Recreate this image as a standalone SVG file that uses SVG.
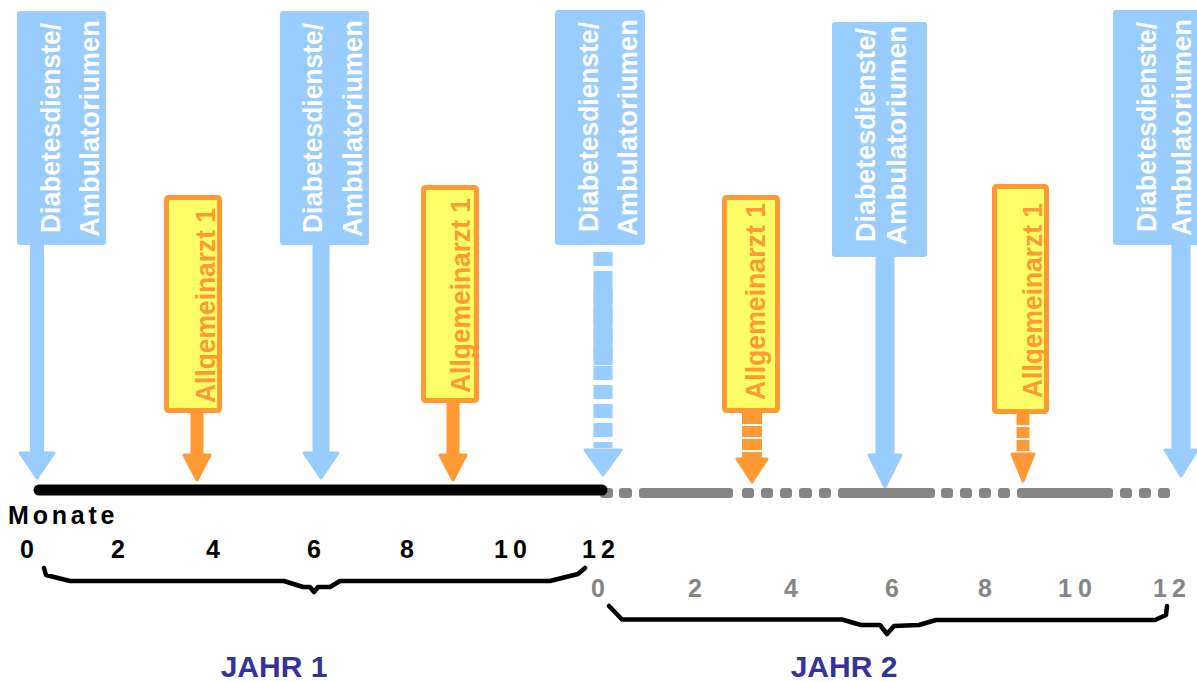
<svg xmlns="http://www.w3.org/2000/svg" width="1197" height="682" viewBox="0 0 1197 682">
<style>
.bx{fill:#99CCFF}
.bt{font-family:"Liberation Sans",Arial,sans-serif;font-weight:bold;font-size:28px;fill:#FFFFFF}
.ob{fill:#FFFF66;stroke:#FF9933;stroke-width:5}
.ot{font-family:"Liberation Sans",Arial,sans-serif;font-weight:bold;font-size:27px;fill:#FF9933}
.bs{stroke:#99CCFF;fill:none}
.os{stroke:#FF9933;fill:none}
.bh{fill:#99CCFF;stroke:#99CCFF;stroke-width:3;stroke-linejoin:round}
.oh{fill:#FF9933;stroke:#FF9933;stroke-width:3;stroke-linejoin:round}
.num{font-family:"Liberation Sans",Arial,sans-serif;font-weight:bold;font-size:25px}
.n1{fill:#000000}
.n2{fill:#858585}
.gd{fill:#858585}
.brace{fill:none;stroke:#000000;stroke-width:4.5;stroke-linejoin:round;stroke-linecap:round}
.yr{font-family:"Liberation Sans",Arial,sans-serif;font-weight:bold;font-size:30px;fill:#333399;text-anchor:middle}
</style>

<g id="connectors">
  <line class="bs" x1="37" y1="244" x2="37" y2="456" stroke-width="14"/>
  <polygon class="bh" points="20,453 54,453 37,478"/>
  <line class="bs" x1="321" y1="244" x2="321" y2="456" stroke-width="17"/>
  <polygon class="bh" points="304,453 338,453 321,478"/>
  <line class="bs" x1="603" y1="252" x2="603" y2="448" stroke-width="19" stroke-dasharray="14 5"/>
  <line class="bs" x1="603" y1="285" x2="603" y2="365" stroke-width="19"/>
  <polygon class="bh" points="585,450 621,450 603,475"/>
  <line class="bs" x1="885" y1="256" x2="885" y2="458" stroke-width="19"/>
  <polygon class="bh" points="869,455 901,455 885,487"/>
  <line class="bs" x1="1181" y1="244" x2="1181" y2="452" stroke-width="19"/>
  <polygon class="bh" points="1165,450 1197,450 1181,476"/>
  <line class="os" x1="197" y1="412" x2="197" y2="457" stroke-width="13"/>
  <polygon class="oh" points="184,455 210,455 197,480"/>
  <line class="os" x1="453" y1="402" x2="453" y2="457" stroke-width="13"/>
  <polygon class="oh" points="440,455 466,455 453,480"/>
  <line class="os" x1="752" y1="413" x2="752" y2="460" stroke-width="20" stroke-dasharray="11 2"/>
  <polygon class="oh" points="737,459 767,459 752,482"/>
  <line class="os" x1="1023" y1="414" x2="1023" y2="456" stroke-width="13" stroke-dasharray="11 2"/>
  <polygon class="oh" points="1012,454 1034,454 1023,481"/>
</g>

<g id="diabetes1">
  <rect class="bx" x="17" y="11" width="89" height="234" rx="3"/>
  <text class="bt" transform="translate(60,233) rotate(-90)" textLength="210" lengthAdjust="spacingAndGlyphs">Diabetesdienste/</text>
  <text class="bt" transform="translate(99,237) rotate(-90)" textLength="217" lengthAdjust="spacingAndGlyphs">Ambulatoriumen</text>
</g>
<g id="diabetes2">
  <rect class="bx" x="280" y="11" width="89" height="234" rx="3"/>
  <text class="bt" transform="translate(322,233) rotate(-90)" textLength="210" lengthAdjust="spacingAndGlyphs">Diabetesdienste/</text>
  <text class="bt" transform="translate(362,237) rotate(-90)" textLength="217" lengthAdjust="spacingAndGlyphs">Ambulatoriumen</text>
</g>
<g id="diabetes3">
  <rect class="bx" x="555" y="10" width="90" height="235" rx="3"/>
  <text class="bt" transform="translate(598,232) rotate(-90)" textLength="210" lengthAdjust="spacingAndGlyphs">Diabetesdienste/</text>
  <text class="bt" transform="translate(637,236) rotate(-90)" textLength="217" lengthAdjust="spacingAndGlyphs">Ambulatoriumen</text>
</g>
<g id="diabetes4">
  <rect class="bx" x="832" y="22" width="95" height="235" rx="3"/>
  <text class="bt" transform="translate(875,242) rotate(-90)" textLength="214" lengthAdjust="spacingAndGlyphs">Diabetesdienste/</text>
  <text class="bt" transform="translate(906,245) rotate(-90)" textLength="219" lengthAdjust="spacingAndGlyphs">Ambulatoriumen</text>
</g>
<g id="diabetes5">
  <rect class="bx" x="1113" y="10" width="92" height="235" rx="3"/>
  <text class="bt" transform="translate(1156,232) rotate(-90)" textLength="210" lengthAdjust="spacingAndGlyphs">Diabetesdienste/</text>
  <text class="bt" transform="translate(1191,236) rotate(-90)" textLength="217" lengthAdjust="spacingAndGlyphs">Ambulatoriumen</text>
</g>

<g id="arzt1">
  <rect class="ob" x="166.5" y="197.5" width="53" height="213" rx="2"/>
  <text class="ot" transform="translate(215,403) rotate(-90)" textLength="195" lengthAdjust="spacingAndGlyphs">Allgemeinarzt 1</text>
</g>
<g id="arzt2">
  <rect class="ob" x="423.5" y="187.5" width="53" height="213" rx="2"/>
  <text class="ot" transform="translate(470,393) rotate(-90)" textLength="195" lengthAdjust="spacingAndGlyphs">Allgemeinarzt 1</text>
</g>
<g id="arzt3">
  <rect class="ob" x="724.5" y="197.5" width="53" height="213" rx="2"/>
  <text class="ot" transform="translate(765,400) rotate(-90)" textLength="197" lengthAdjust="spacingAndGlyphs">Allgemeinarzt 1</text>
</g>
<g id="arzt4">
  <rect class="ob" x="994.5" y="186.5" width="52" height="225" rx="2"/>
  <text class="ot" transform="translate(1042,398) rotate(-90)" textLength="195" lengthAdjust="spacingAndGlyphs">Allgemeinarzt 1</text>
</g>

<g id="timeline">
  <g class="gd">
    <rect x="600" y="488" width="13" height="10" rx="3"/>
    <rect x="619" y="488" width="13" height="10" rx="3"/>
    <rect x="639" y="488" width="94" height="10" rx="3"/>
    <rect x="742" y="488" width="12" height="10" rx="3"/>
    <rect x="761" y="488" width="12" height="10" rx="3"/>
    <rect x="780" y="488" width="12" height="10" rx="3"/>
    <rect x="799" y="488" width="13" height="10" rx="3"/>
    <rect x="819" y="488" width="12" height="10" rx="3"/>
    <rect x="838" y="488" width="97" height="10" rx="3"/>
    <rect x="941" y="488" width="12" height="10" rx="3"/>
    <rect x="960" y="488" width="12" height="10" rx="3"/>
    <rect x="979" y="488" width="12" height="10" rx="3"/>
    <rect x="998" y="488" width="12" height="10" rx="3"/>
    <rect x="1017" y="488" width="96" height="10" rx="3"/>
    <rect x="1120" y="488" width="12" height="10" rx="3"/>
    <rect x="1139" y="488" width="12" height="10" rx="3"/>
    <rect x="1158" y="488" width="12" height="10" rx="3"/>
  </g>
  <line x1="39" y1="490" x2="602" y2="490" stroke="#000000" stroke-width="11" stroke-linecap="round"/>
</g>

<g id="labels">
  <text class="num n1" x="8" y="524" font-size="26" letter-spacing="3.8">Monate</text>
  <g class="num n1" text-anchor="middle">
    <text x="27" y="558">0</text>
    <text x="118" y="558">2</text>
    <text x="213" y="558">4</text>
    <text x="314" y="558">6</text>
    <text x="407" y="558">8</text>
  </g>
  <text class="num n1" x="494 513" y="558">10</text>
  <text class="num n1" x="582 601" y="558">12</text>
  <g class="num n2" text-anchor="middle">
    <text x="598" y="597">0</text>
    <text x="695" y="597">2</text>
    <text x="791" y="597">4</text>
    <text x="892" y="597">6</text>
    <text x="985" y="597">8</text>
  </g>
  <text class="num n2" x="1058 1078" y="597">10</text>
  <text class="num n2" x="1153 1172" y="597">12</text>
</g>

<g id="braces">
  <path class="brace" d="M44,568 L46,575 L70,581 L284,581 L303,587 L310,587 L314,592 L318,587 L330,587 L340,581 L550,581 L578,574 L585,568"/>
  <path class="brace" d="M609,606 L622,619.5 L842,619.5 L861,625 L880,625 L887,634 L894,626 L919,625 L936,620 L1155,620 L1166,615 L1167,606"/>
</g>

<g id="years">
  <text class="yr" x="274" y="677">JAHR 1</text>
  <text class="yr" x="844" y="677">JAHR 2</text>
</g>
</svg>
